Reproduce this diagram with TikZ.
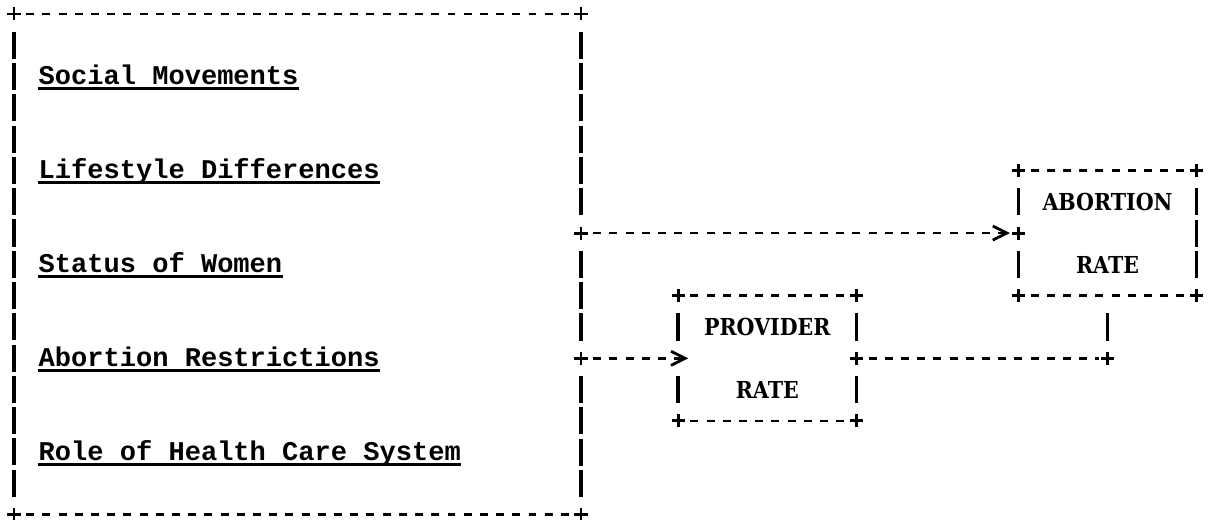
\documentclass[tikz,border=0pt]{standalone}
\usepackage{fontspec}
\newfontfamily\typefont{Liberation Mono}
\newfontfamily\ratefont[FakeStretch=0.88]{DejaVu Serif}
\usetikzlibrary{arrows.meta, calc}
\tikzset{
	factor/.style={anchor=base west, inner sep=0pt, font=\typefont\bfseries\fontsize{15.4}{18}\selectfont},
	ratebox/.style={rectangle, inner sep=0pt, outer sep=0pt, minimum width=3.564cm, minimum height=2.504cm, align=center, font=\ratefont\bfseries\fontsize{13.3}{35.8}\selectfont},
	hline/.style={line width=1.5pt, dash pattern=on 4.5pt off 4.72pt, dash phase=6.86pt, shorten <=4.61pt, shorten >=4.61pt},
	vline/.style={line width=2.1pt, dash pattern=on 15.4pt off 2.4pt, dash phase=16.58pt, shorten <=8.9pt, shorten >=8.9pt},
	arrow/.style={hline, -{Straight Barb[length=8pt, width=8pt, line width=1.6pt]}},
	uline/.style={line width=1.5pt},
	plusmark/.style={line width=1.7pt},
}

\begin{document}
\begin{tikzpicture}[x=0.324cm, y=-0.626cm]
		\useasboundingbox (-0.864,-0.447) rectangle (74.074,16.166);
		% factors
		\node[inner sep=0pt, outer sep=0pt, minimum width=11.34cm, minimum height=10.016cm] (factors) at (17.5,8) {};
		\node[factor] (social) at (1.5,2.26) {Social Movements};
		\node[factor] (lifestyle) at (1.5,5.26) {Lifestyle Differences};
		\node[factor] (status) at (1.5,8.26) {Status of Women};
		\node[factor] (restrict) at (1.5,11.26) {Abortion Restrictions};
		\node[factor] (health) at (1.5,14.26) {Role of Health Care System};
		% rates
		\node[ratebox] (abort) at (67.5,7) {ABORTION\\RATE};
		\node[ratebox] (prov) at (46.5,11) {PROVIDER\\RATE};
		\coordinate (out1) at (factors.east |- abort.west);
		\coordinate (out2) at (factors.east |- prov.west);
		\coordinate (turn) at (prov.east -| abort.south);
		% outlines
		\draw[hline] (factors.north west) -- (factors.north east);
		\draw[hline] (factors.south west) -- (factors.south east);
		\draw[vline] (factors.north west) -- (factors.south west);
		\draw[vline] (factors.north east) -- (out1);
		\draw[vline] (out1) -- (out2);
		\draw[vline] (out2) -- (factors.south east);
		\draw[hline] (abort.north west) -- (abort.north east);
		\draw[hline] (abort.south west) -- (abort.south east);
		\draw[vline] (abort.north west) -- (abort.west);
		\draw[vline] (abort.west) -- (abort.south west);
		\draw[vline] (abort.north east) -- (abort.south east);
		\draw[hline] (prov.north west) -- (prov.north east);
		\draw[hline] (prov.south west) -- (prov.south east);
		\draw[vline] (prov.north west) -- (prov.west);
		\draw[vline] (prov.west) -- (prov.south west);
		\draw[vline] (prov.north east) -- (prov.east);
		\draw[vline] (prov.east) -- (prov.south east);
		\foreach \f in {social,lifestyle,status,restrict,health}
			\draw[uline] ([yshift=-2.3pt]\f.base west) -- ([yshift=-2.3pt]\f.base east);
		% links
		\draw[arrow, shorten >=4.8pt] (out1) -- (abort.west);
		\draw[arrow, shorten >=-5.7pt] (out2) -- (prov.west);
		\draw[hline] (prov.east) -- (turn);
		\draw[vline] (turn) -- (abort.south);
		\foreach \p in {factors.north west,factors.north east,factors.south west,factors.south east,out1,out2,abort.north west,abort.north east,abort.south west,abort.south east,abort.west,prov.north west,prov.north east,prov.south west,prov.south east,prov.east,turn}
			\draw[plusmark] (\p) +(-3.7pt,0) -- +(3.7pt,0) (\p) +(0,-3.7pt) -- +(0,3.7pt);
	\end{tikzpicture}
\end{document}
